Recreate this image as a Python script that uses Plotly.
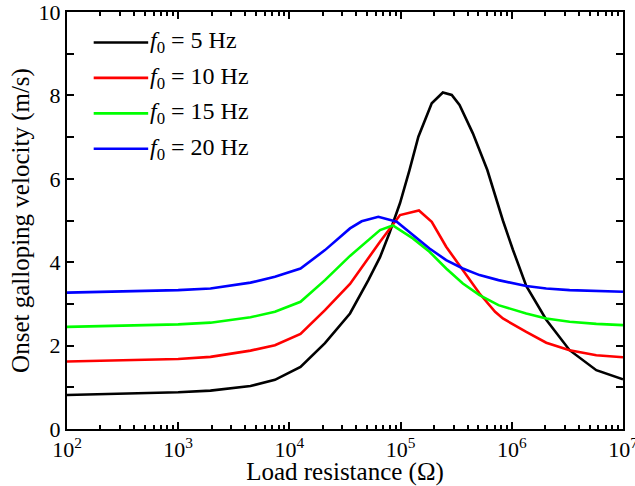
import plotly.graph_objects as go

# log10 of load resistance (Ohm) and onset galloping velocity (m/s)
exp_5hz = [2.0, 3.0, 3.29, 3.65, 3.87, 4.10, 4.32, 4.545, 4.71, 4.815, 4.90, 4.995, 5.08, 5.16,
           5.28, 5.38, 5.46, 5.53, 5.65, 5.78, 5.92, 6.01, 6.13, 6.31, 6.52, 6.76, 7.0]
vel_5hz = [0.815, 0.88, 0.92, 1.03, 1.18, 1.49, 2.06, 2.77, 3.57, 4.12, 4.70, 5.42, 6.21, 7.01,
           7.81, 8.07, 8.01, 7.77, 7.09, 6.21, 5.00, 4.30, 3.43, 2.62, 1.89, 1.41, 1.19]

exp_10hz = [2.0, 3.0, 3.29, 3.65, 3.87, 4.10, 4.32, 4.545, 4.815, 4.995, 5.165, 5.28, 5.41,
            5.56, 5.71, 5.85, 5.92, 6.13, 6.31, 6.52, 6.76, 7.0]
vel_10hz = [1.62, 1.68, 1.73, 1.88, 2.01, 2.28, 2.85, 3.48, 4.49, 5.13, 5.24, 4.97, 4.37,
            3.81, 3.25, 2.81, 2.65, 2.33, 2.07, 1.89, 1.77, 1.72]

exp_15hz = [2.0, 3.0, 3.29, 3.65, 3.87, 4.10, 4.32, 4.545, 4.815, 4.93, 5.11, 5.26, 5.41,
            5.56, 5.71, 5.88, 6.13, 6.31, 6.52, 6.76, 7.0]
vel_15hz = [2.45, 2.51, 2.55, 2.68, 2.81, 3.05, 3.57, 4.15, 4.77, 4.88, 4.57, 4.25, 3.85,
            3.49, 3.21, 2.97, 2.77, 2.65, 2.57, 2.52, 2.49]

exp_20hz = [2.0, 3.0, 3.29, 3.65, 3.87, 4.10, 4.32, 4.545, 4.65, 4.80, 4.965, 5.11, 5.26,
            5.41, 5.56, 5.71, 5.88, 6.13, 6.31, 6.52, 6.76, 7.0]
vel_20hz = [3.27, 3.33, 3.37, 3.51, 3.65, 3.85, 4.29, 4.81, 4.98, 5.09, 4.97, 4.65, 4.33,
            4.05, 3.85, 3.69, 3.57, 3.43, 3.37, 3.33, 3.31, 3.29]

series_names = ["<i>f</i><sub>0</sub> = 5 Hz", "<i>f</i><sub>0</sub> = 10 Hz",
                "<i>f</i><sub>0</sub> = 15 Hz", "<i>f</i><sub>0</sub> = 20 Hz"]
series_colors = ["#000000", "#ff0000", "#00ff00", "#0000ff"]

x_tick_exps = [2, 3, 4, 5, 6, 7]
y_ticks = [0, 2, 4, 6, 8, 10]

FONT = "Liberation Serif, Times New Roman, serif"

fig = go.Figure()
all_series = [(exp_5hz, vel_5hz), (exp_10hz, vel_10hz), (exp_15hz, vel_15hz), (exp_20hz, vel_20hz)]
for (ex, vel), name, col in zip(all_series, series_names, series_colors):
    fig.add_trace(go.Scatter(
        x=[10 ** e for e in ex], y=vel, mode="lines", name=name,
        line=dict(color=col, width=2.6), showlegend=False,
    ))

# manual legend (long line samples as in the reference)
leg_y = [0.927, 0.842, 0.757, 0.672]
for yy, name, col in zip(leg_y, series_names, series_colors):
    fig.add_shape(type="line", xref="paper", yref="paper", x0=0.048, x1=0.146, y0=yy, y1=yy,
                  line=dict(color=col, width=2.6))
    fig.add_annotation(xref="paper", yref="paper", x=0.146, y=yy, xanchor="left", yanchor="middle",
                       text=name, showarrow=False, font=dict(family=FONT, size=24, color="black"))

minor_x = [m * 10 ** k for k in range(2, 7) for m in range(2, 10)]

fig.update_xaxes(
    type="log", range=[2, 7.0001], automargin=False,
    tickmode="array", tickvals=[10 ** e for e in x_tick_exps],
    ticktext=[f"10<sup>{e}</sup>" for e in x_tick_exps],
    ticklabeloverflow="allow",
    ticks="inside", ticklen=7, tickwidth=1.5, tickcolor="black",
    minor=dict(tickmode="array", tickvals=minor_x, ticks="inside", ticklen=4, tickwidth=1.5,
               tickcolor="black", showgrid=False),
    showline=True, linecolor="black", linewidth=2, mirror="ticks",
    showgrid=False, zeroline=False,
    tickfont=dict(family=FONT, size=22, color="black"),
    title=dict(text="Load resistance (Ω)", font=dict(family=FONT, size=25, color="black"), standoff=3),
)
fig.update_yaxes(
    range=[0, 10], automargin=False,
    tickmode="array", tickvals=y_ticks, ticktext=[str(v) for v in y_ticks],
    ticklabeloverflow="allow",
    ticks="inside", ticklen=7, tickwidth=1.5, tickcolor="black",
    minor=dict(dtick=1, ticks="inside", ticklen=7, tickwidth=1.5, tickcolor="black", showgrid=False),
    showline=True, linecolor="black", linewidth=2, mirror="ticks",
    showgrid=False, zeroline=False,
    tickfont=dict(family=FONT, size=22, color="black"),
    title=dict(text="Onset galloping velocity (m/s)", font=dict(family=FONT, size=25, color="black"),
               standoff=2),
)

fig.update_layout(
    width=635, height=486,
    margin=dict(l=67, r=12, t=12, b=57),
    plot_bgcolor="white", paper_bgcolor="white",
    font=dict(family=FONT, color="black"),
    showlegend=False,
)

fig.write_html("out.html")
